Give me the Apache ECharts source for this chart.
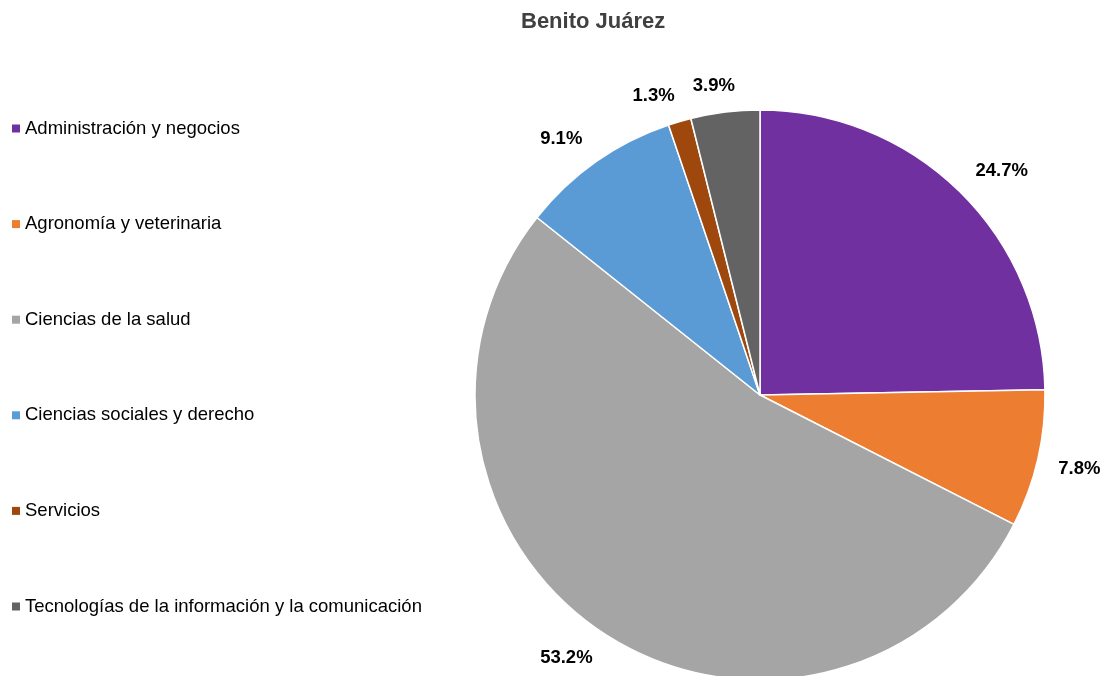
<!DOCTYPE html>
<html>
<head>
<meta charset="utf-8">
<script src="https://cdn.jsdelivr.net/npm/echarts@6/dist/echarts.min.js"></script>
<style>
  html, body { margin: 0; padding: 0; background: #ffffff; }
  #chart { width: 1109px; height: 676px; }
</style>
</head>
<body>
<div id="chart"></div>
<script>
// Share of enrolment by field of study
const categories = [
  'Administración y negocios',
  'Agronomía y veterinaria',
  'Ciencias de la salud',
  'Ciencias sociales y derecho',
  'Servicios',
  'Tecnologías de la información y la comunicación'
];
const shares = [24.7, 7.8, 53.2, 9.1, 1.3, 3.9];
const colors = ['#7030A0', '#ED7D31', '#A5A5A5', '#5B9BD5', '#9E480E', '#636363'];

const PIE_CENTER = [760, 395];
const PIE_RADIUS = 285;
const LABEL_RING = 302;   // ring on which the label box corner sits

// mid angle of each slice, measured clockwise from 12 o'clock
const total = shares.reduce((a, b) => a + b, 0);
const midAngles = [];
let acc = 0;
shares.forEach(v => {
  midAngles.push(((acc + v / 2) / total) * 2 * Math.PI);
  acc += v;
});

const clamp1 = v => Math.max(-1, Math.min(1, v));
const font = 'Liberation Sans, Arial, sans-serif';
const chart = echarts.init(document.getElementById('chart'), null, { renderer: 'canvas' });

chart.setOption({
  animation: false,
  color: colors,
  title: {
    text: 'Benito Juárez',
    left: 521,
    top: 11,
    padding: 0,
    textStyle: { fontFamily: font, fontSize: 22, fontWeight: 'bold', color: '#404040' }
  },
  legend: {
    orient: 'vertical',
    left: 12,
    top: 119,
    padding: 0,
    itemGap: 76.6,
    itemWidth: 8,
    itemHeight: 8,
    icon: 'rect',
    selectedMode: false,
    itemStyle: { borderWidth: 0 },
    data: categories,
    textStyle: { fontFamily: font, fontSize: 18.5, color: '#000000' }
  },
  series: [{
    type: 'pie',
    center: PIE_CENTER,
    radius: [0, PIE_RADIUS],
    startAngle: 90,
    clockwise: true,
    avoidLabelOverlap: false,
    data: categories.map((name, i) => ({ name, value: shares[i] })),
    itemStyle: { borderColor: '#ffffff', borderWidth: 1.5 },
    label: {
      show: true,
      position: 'outside',
      formatter: p => p.value.toFixed(1) + '%',
      fontFamily: font,
      fontSize: 18.5,
      fontWeight: 'bold',
      color: '#000000'
    },
    labelLine: { show: false, length: 30, length2: 0 },
    // each label box hangs off a ring just outside the rim, on the slice's mid angle
    labelLayout: params => {
      const a = midAngles[params.dataIndex];
      const ux = Math.sin(a), uy = -Math.cos(a);
      const hw = params.labelRect.width / 2 + 4;
      const hh = 9;
      return {
        x: PIE_CENTER[0] + LABEL_RING * ux + clamp1(3 * ux) * hw,
        y: PIE_CENTER[1] + LABEL_RING * uy + clamp1(3 * uy) * hh,
        align: 'center',
        verticalAlign: 'middle'
      };
    },
    emphasis: { disabled: true }
  }]
});
</script>
</body>
</html>
